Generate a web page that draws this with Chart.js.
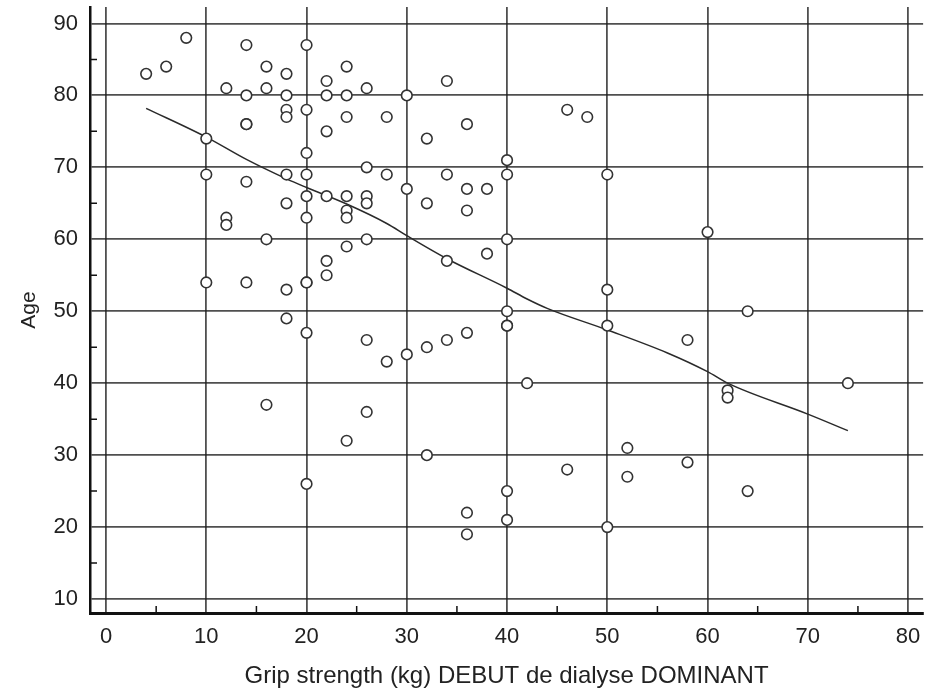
<!DOCTYPE html>
<html>
<head>
<meta charset="utf-8">
<script src="https://cdn.jsdelivr.net/npm/chart.js@4/dist/chart.umd.min.js"></script>
<style>
  html, body { margin: 0; padding: 0; background: #fff; }
  #wrap { width: 930px; height: 696px; }
</style>
</head>
<body>
<div id="wrap"><canvas id="scatterChart"></canvas></div>
<script>
// grip strength (kg) at start of dialysis vs age, one entry per patient
const gripX = [
    4, 6, 8,
    10, 10, 10,
    12, 12, 12,
    14, 14, 14, 14, 14, 14,
    16, 16, 16, 16,
    18, 18, 18, 18, 18, 18, 18, 18,
    20, 20, 20, 20, 20, 20, 20, 20, 20, 20,
    22, 22, 22, 22, 22, 22,
    24, 24, 24, 24, 24, 24, 24, 24,
    26, 26, 26, 26, 26, 26, 26,
    28, 28, 28,
    30, 30, 30,
    32, 32, 32, 32,
    34, 34, 34, 34,
    36, 36, 36, 36, 36, 36,
    38, 38,
    40, 40, 40, 40, 40, 40, 40, 40,
    42,
    46, 46,
    48,
    50, 50, 50, 50,
    52, 52,
    58, 58,
    60,
    62, 62,
    64, 64,
    74
];
const ageY = [
    83, 84, 88,
    74, 69, 54,
    81, 63, 62,
    87, 80, 76, 76, 68, 54,
    84, 81, 60, 37,
    83, 80, 78, 77, 69, 65, 53, 49,
    87, 78, 72, 69, 66, 63, 54, 54, 47, 26,
    82, 80, 75, 66, 57, 55,
    84, 80, 77, 66, 64, 63, 59, 32,
    81, 70, 66, 65, 60, 46, 36,
    77, 69, 43,
    80, 67, 44,
    74, 65, 45, 30,
    82, 69, 57, 46,
    76, 67, 64, 47, 22, 19,
    67, 58,
    71, 69, 60, 50, 48, 48, 25, 21,
    40,
    78, 28,
    77,
    69, 53, 48, 20,
    31, 27,
    46, 29,
    61,
    39, 38,
    50, 25,
    40
];

// smoothed trend line
const trendX = [4, 10, 14, 18, 20, 24, 28, 30, 34, 40, 42, 44, 50, 56, 60, 62, 70, 74];
const trendY = [78.2, 74.2, 71.1, 68.4, 67.2, 64.9, 62.2, 60.5, 57.3, 53.2, 51.7, 50.4, 47.4, 44.2, 41.6, 40.0, 35.7, 33.4];

const xTicks = [0, 10, 20, 30, 40, 50, 60, 70, 80];
const yTicks = [10, 20, 30, 40, 50, 60, 70, 80, 90];
const xMinor = [5, 15, 25, 35, 45, 55, 65, 75];
const yMinor = [15, 25, 35, 45, 55, 65, 75, 85];

const points = gripX.map((x, i) => ({ x: x, y: ageY[i] }));
const trend = trendX.map((x, i) => ({ x: x, y: trendY[i] }));

// short inward ticks at the half steps
const minorTicks = {
    id: 'minorTicks',
    afterDraw(chart) {
        const ctx = chart.ctx;
        const xs = chart.scales.x;
        const ys = chart.scales.y;
        const area = chart.chartArea;
        ctx.save();
        ctx.strokeStyle = '#111';
        ctx.lineWidth = 1.5;
        ctx.beginPath();
        xMinor.forEach(v => {
            const px = xs.getPixelForValue(v);
            ctx.moveTo(px, area.bottom);
            ctx.lineTo(px, area.bottom - 7);
        });
        yMinor.forEach(v => {
            const py = ys.getPixelForValue(v);
            ctx.moveTo(area.left, py);
            ctx.lineTo(area.left + 7, py);
        });
        ctx.stroke();
        ctx.restore();
    }
};

const fam = 'Liberation Sans, Arial, sans-serif';
const tickFont = { family: fam, size: 22 };

new Chart(document.getElementById('scatterChart'), {
    type: 'scatter',
    data: {
        datasets: [
            {
                type: 'line',
                label: 'trend',
                data: trend,
                borderColor: '#2a2a2a',
                borderWidth: 1.5,
                pointRadius: 0,
                fill: false,
                cubicInterpolationMode: 'monotone',
                order: 2
            },
            {
                label: 'Age',
                data: points,
                pointRadius: 5.3,
                pointBorderWidth: 1.6,
                borderColor: '#333',
                backgroundColor: '#fff',
                pointStyle: 'circle',
                order: 1
            }
        ]
    },
    options: {
        responsive: true,
        maintainAspectRatio: false,
        animation: false,
        layout: { padding: { top: 4, right: 4, left: 0, bottom: 0 } },
        plugins: {
            legend: { display: false },
            tooltip: { enabled: false }
        },
        scales: {
            x: {
                type: 'linear',
                min: -1.6,
                max: 81.5,
                afterBuildTicks: s => { s.ticks = xTicks.map(v => ({ value: v })); },
                afterFit: s => {
                    s.height = 83;
                    s.paddingLeft = 0;
                    s.paddingRight = 0;
                },
                ticks: { color: '#222', font: tickFont, padding: 11, maxRotation: 0 },
                grid: { color: 'rgba(30,30,30,0.78)', lineWidth: 1.8, drawTicks: false },
                border: { display: true, color: '#111', width: 3 },
                title: {
                    display: true,
                    text: 'Grip strength (kg) DEBUT de dialyse DOMINANT',
                    color: '#222',
                    font: { family: fam, size: 24 },
                    padding: { top: 0, bottom: 5 }
                }
            },
            y: {
                type: 'linear',
                min: 8.06,
                max: 92.3,
                afterBuildTicks: s => { s.ticks = yTicks.map(v => ({ value: v })); },
                afterFit: s => {
                    s.width = 90;
                    s.paddingTop = 0;
                    s.paddingBottom = 0;
                },
                ticks: { color: '#222', font: tickFont, padding: 12 },
                grid: { color: 'rgba(30,30,30,0.78)', lineWidth: 1.8, drawTicks: false },
                border: { display: true, color: '#111', width: 2.5 },
                title: {
                    display: true,
                    text: 'Age',
                    color: '#222',
                    font: { family: fam, size: 21 },
                    padding: { top: 17, bottom: 0 }
                }
            }
        }
    },
    plugins: [minorTicks]
});
</script>
</body>
</html>
